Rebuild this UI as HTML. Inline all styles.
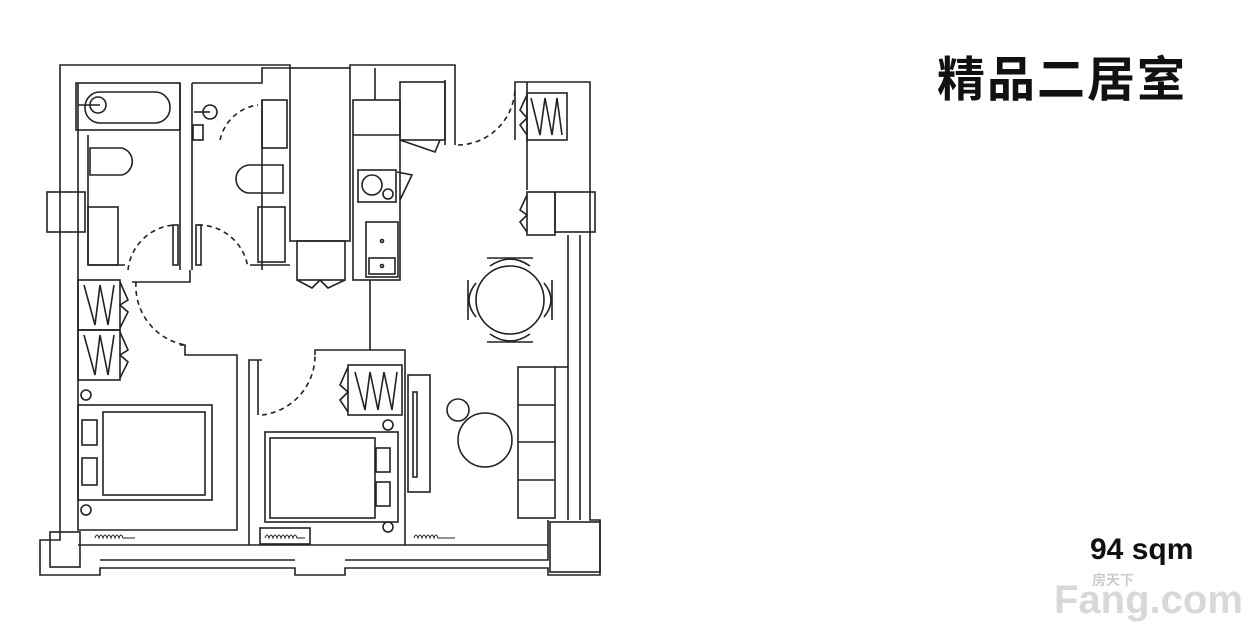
<!DOCTYPE html>
<html><head><meta charset="utf-8"><style>
html,body{margin:0;padding:0;background:#fff;width:1252px;height:640px;overflow:hidden}
svg{position:absolute;left:0;top:0}
.t{position:absolute;font-family:"Liberation Sans","Noto Sans CJK SC",sans-serif;font-weight:bold;color:#111;white-space:nowrap}
</style></head><body>
<svg width="1252" height="640" viewBox="0 0 1252 640" fill="none" stroke="#222" stroke-width="1.6">
<!-- outer walls -->
<polyline points="290,68 290,65 60,65 60,540 40,540 40,575 100,575 100,568 295,568 295,575 345,575 345,568 548,568 548,575 600,575 600,520 590,520 590,82 515,82 515,140"/>
<polyline points="78,83 78,530 237,530 237,355 185,355 185,345 180,345"/>
<polyline points="350,68 350,65 455,65 455,145"/>
<line x1="445" y1="80" x2="445" y2="145"/>
<line x1="568" y1="235" x2="568" y2="520"/>
<line x1="580" y1="235" x2="580" y2="520"/>
<line x1="527" y1="82" x2="527" y2="190"/>
<polyline points="100,560 295,560"/><polyline points="345,560 548,560 548,520"/>
<line x1="78" y1="545" x2="548" y2="545"/>
<!-- windows -->
<rect x="47" y="192" width="38" height="40"/><rect x="555" y="192" width="40" height="40"/>
<rect x="50" y="532" width="30" height="35"/><rect x="550" y="522" width="50" height="50"/>
<!-- bathroom 1 -->
<rect x="76" y="83" width="104" height="47"/>
<rect x="85" y="92" width="85" height="31" rx="15"/>
<circle cx="98" cy="105" r="8"/><line x1="78" y1="105" x2="100" y2="105"/>
<line x1="180" y1="83" x2="180" y2="270"/><line x1="192" y1="83" x2="192" y2="270"/>
<line x1="88" y1="135" x2="88" y2="265"/>
<path d="M90,148 H122 A14,14 0 0 1 122,175 H90 Z"/>
<rect x="88" y="207" width="30" height="58"/><line x1="88" y1="265" x2="125" y2="265"/>
<!-- bathroom 2 -->
<polyline points="192,83 262,83 262,68 290,68"/>
<line x1="262" y1="100" x2="262" y2="270"/>
<circle cx="210" cy="112" r="7"/><line x1="194" y1="112" x2="210" y2="112"/>
<rect x="193" y="125" width="10" height="15"/>
<path d="M283,165 H250 A14,14 0 0 0 250,193 H283 Z"/>
<rect x="258" y="207" width="27" height="55"/><line x1="250" y1="265" x2="290" y2="265"/>
<rect x="262" y="100" width="25" height="48"/>
<!-- doors -->
<g stroke-dasharray="5,4">
<path d="M128,270 A50,50 0 0 1 175,225"/><path d="M198,225 A50,50 0 0 1 248,268"/>
<path d="M220,140 A45,45 0 0 1 258,105"/>
<path d="M136,282 A60,60 0 0 0 185,345"/>
<path d="M458,145 A58,58 0 0 0 515,88"/>
<path d="M262,415 A60,60 0 0 0 315,355"/>
</g>
<rect x="173" y="225" width="5" height="40"/><rect x="196" y="225" width="5" height="40"/>
<polyline points="132,282 190,282 190,270"/>
<!-- shaft & kitchen -->
<rect x="290" y="68" width="60" height="173"/>
<rect x="297" y="241" width="48" height="39"/><polyline points="297,280 312,288 320,280 328,288 345,280"/>
<rect x="353" y="100" width="47" height="180"/>
<line x1="353" y1="135" x2="400" y2="135"/>
<line x1="375" y1="68" x2="375" y2="100"/>
<rect x="400" y="82" width="45" height="58"/><polyline points="400,140 435,152 440,140"/>
<rect x="358" y="170" width="38" height="32"/><circle cx="372" cy="185" r="10"/><circle cx="388" cy="194" r="5"/>
<polyline points="397,172 412,175 400,200"/>
<rect x="366" y="222" width="32" height="55"/><rect x="369" y="258" width="26" height="16"/>
<circle cx="382" cy="241" r="1.5"/><circle cx="382" cy="266" r="1.5"/>
<line x1="370" y1="280" x2="370" y2="350"/>
<!-- right wardrobe -->
<rect x="527" y="93" width="40" height="47"/>
<path d="M531,98 L540,135 L545,98 L552,135 L557,98 L562,135"/>
<polyline points="527,95 520,110 527,118 520,125 527,135"/>
<rect x="527" y="192" width="28" height="43"/><polyline points="527,195 520,210 527,215 520,222 527,232"/>
<!-- dining -->
<circle cx="510" cy="300" r="34"/>
<path d="M490,266 Q510,252 530,266"/><path d="M490,334 Q510,348 530,334"/>
<path d="M476,283 Q462,300 476,317"/><path d="M544,283 Q558,300 544,317"/>
<line x1="487" y1="258" x2="533" y2="258"/><line x1="487" y1="342" x2="533" y2="342"/>
<line x1="468" y1="280" x2="468" y2="320"/><line x1="552" y1="280" x2="552" y2="320"/>
<!-- living -->
<rect x="408" y="375" width="22" height="117"/><rect x="413" y="392" width="4" height="85"/>
<rect x="518" y="367" width="37" height="151"/>
<line x1="518" y1="405" x2="555" y2="405"/><line x1="518" y1="442" x2="555" y2="442"/><line x1="518" y1="480" x2="555" y2="480"/>
<line x1="555" y1="367" x2="568" y2="367"/>
<circle cx="458" cy="410" r="11"/><circle cx="485" cy="440" r="27"/>
<!-- bedroom 2 walls -->
<polyline points="315,355 315,350 405,350 405,545"/>
<polyline points="249,545 249,360 262,360"/><line x1="258" y1="360" x2="258" y2="415"/>
<rect x="348" y="365" width="54" height="50"/>
<path d="M355,372 L365,410 L370,372 L378,410 L384,372 L392,410 L397,372"/>
<polyline points="348,367 340,385 348,392 340,400 348,412"/>
<!-- bedroom 1 wardrobes -->
<rect x="78" y="280" width="42" height="50"/><rect x="78" y="330" width="42" height="50"/>
<path d="M84,285 L95,325 L100,285 L108,325 L114,285"/><path d="M84,335 L95,375 L100,335 L108,375 L114,335"/>
<polyline points="120,282 128,300 120,305 128,312 120,328"/><polyline points="120,332 128,350 120,355 128,362 120,378"/>
<!-- bed 1 -->
<rect x="78" y="405" width="134" height="95"/><rect x="103" y="412" width="102" height="83"/>
<rect x="82" y="420" width="15" height="25"/><rect x="82" y="458" width="15" height="27"/>
<circle cx="86" cy="395" r="5"/><circle cx="86" cy="510" r="5"/>
<!-- bed 2 -->
<rect x="265" y="432" width="133" height="90"/><rect x="270" y="438" width="105" height="80"/>
<rect x="376" y="448" width="14" height="24"/><rect x="376" y="482" width="14" height="24"/>
<circle cx="388" cy="425" r="5"/><circle cx="388" cy="527" r="5"/>
<!-- radiators -->
<g stroke-width="1">
<path d="M95,538 q2,-6 4,0 q2,-6 4,0 q2,-6 4,0 q2,-6 4,0 q2,-6 4,0 q2,-6 4,0 q2,-6 4,0 H135"/>
<path d="M265,538 q2,-6 4,0 q2,-6 4,0 q2,-6 4,0 q2,-6 4,0 q2,-6 4,0 q2,-6 4,0 q2,-6 4,0 q2,-6 4,0 H305"/>
<path d="M414,538 q2,-6 4,0 q2,-6 4,0 q2,-6 4,0 q2,-6 4,0 q2,-6 4,0 q2,-6 4,0 H455"/>
</g>
<rect x="260" y="528" width="50" height="16"/>
</svg>
<div class="t" style="left:937px;top:57px;font-size:48px;letter-spacing:2px;line-height:1">精品二居室</div>
<div class="t" style="left:1090px;top:535px;font-size:30px;line-height:1">94 sqm</div>
<div class="t" style="left:1054px;top:580px;font-size:40px;line-height:1;color:#d8d8d8">Fang.com</div>
<div class="t" style="left:1092px;top:570px;font-size:14px;color:#ccc">房天下</div>
</body></html>
